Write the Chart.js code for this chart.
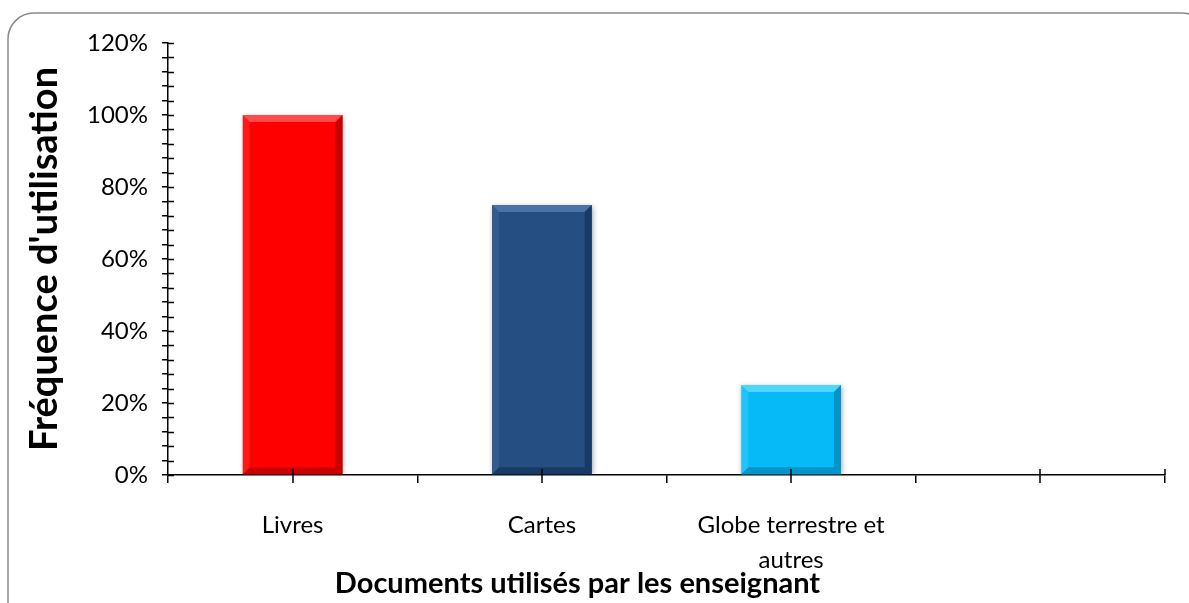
<!DOCTYPE html>
<html>
<head>
<meta charset="utf-8">
<script src="https://cdn.jsdelivr.net/npm/chart.js@4/dist/chart.umd.min.js"></script>
<style>
  html, body { margin: 0; padding: 0; background: #fff; }
  #wrap { width: 1189px; height: 603px; position: relative; }
</style>
</head>
<body>
<div id="wrap"><canvas id="docChart" width="1189" height="603"></canvas></div>
<script>
// data
const categories = ['Livres', 'Cartes', ['Globe terrestre et', 'autres'], ''];
const usage = [1.00, 0.75, 0.25, null];
const barColors = ['#ff0000', '#254f83', '#06baf8'];
const lightColors = ['#ff4a4a', '#4a73a8', '#4fd6ff'];
const darkColors = ['#c80000', '#183a66', '#0494c8'];
const yTickLabels = ['0%', '20%', '40%', '60%', '80%', '100%', '120%'];
const xTitle = 'Documents utilisés par les enseignant';

const FONT = 'Lato, "Open Sans", sans-serif';

// rounded frame around the whole chart
const framePlugin = {
  id: 'frame',
  beforeDraw(chart) {
    const c = chart.ctx;
    c.save();
    c.strokeStyle = '#8a8a8a';
    c.lineWidth = 1.5;
    c.beginPath();
    c.roundRect(8, 13, 1200, 620, 26);
    c.stroke();
    c.restore();
  }
};

// soft shadow + bevel on the bars
const bevelPlugin = {
  id: 'bevel',
  beforeDatasetsDraw(chart) {
    const c = chart.ctx;
    c.save();
    c.shadowColor = 'rgba(0,0,0,0.35)';
    c.shadowBlur = 5;
    c.shadowOffsetX = 1;
    c.shadowOffsetY = 1;
  },
  afterDatasetsDraw(chart) {
    const c = chart.ctx;
    c.restore();
    const meta = chart.getDatasetMeta(0);
    meta.data.forEach((bar, i) => {
      if (usage[i] == null) return;
      const p = bar.getProps(['x', 'y', 'base', 'width'], true);
      const l = p.x - p.width / 2, r = p.x + p.width / 2, t = p.y, b = p.base, d = 7;
      const poly = (pts, col) => {
        c.beginPath();
        c.moveTo(pts[0], pts[1]);
        for (let k = 2; k < pts.length; k += 2) c.lineTo(pts[k], pts[k + 1]);
        c.closePath();
        c.fillStyle = col;
        c.fill();
      };
      c.save();
      poly([l, t, r, t, r - d, t + d, l + d, t + d], lightColors[i]);
      poly([r, t, r, b, r - d, b - d, r - d, t + d], darkColors[i]);
      poly([l, b, r, b, r - d, b - d, l + d, b - d], darkColors[i]);
      c.globalAlpha = 0.35;
      poly([l, t, l + d, t + d, l + d, b - d, l, b], lightColors[i]);
      c.restore();
    });
  }
};

// ticks that cross the axis lines (Excel "cross" style)
const crossTicks = {
  id: 'crossTicks',
  afterDraw(chart) {
    const c = chart.ctx;
    const ys = chart.scales.y, xs = chart.scales.x;
    c.save();
    c.strokeStyle = '#000';
    c.lineWidth = 1.5;
    c.beginPath();
    ys.ticks.forEach((t, i) => {
      const py = Math.round(ys.getPixelForTick(i)) + 0.5;
      c.moveTo(ys.right, py);
      c.lineTo(ys.right + 6, py);
    });
    const axisY = xs.top;
    for (let i = 0; i < categories.length; i++) {
      const px = Math.round(xs.getPixelForTick(i));
      c.moveTo(px, axisY - 6);
      c.lineTo(px, axisY + 8);
    }
    c.moveTo(xs.right, axisY - 6);
    c.lineTo(xs.right, axisY);
    c.stroke();
    c.restore();
  }
};

// x axis title, sits left of the plot centre like in the original
const xTitlePlugin = {
  id: 'xTitle',
  afterDraw(chart) {
    const c = chart.ctx;
    c.save();
    c.fillStyle = '#000';
    c.font = 'bold 29px ' + FONT;
    c.textAlign = 'center';
    c.textBaseline = 'middle';
    c.fillText(xTitle, chart.width / 2 - 17, 584);
    c.restore();
  }
};

new Chart(document.getElementById('docChart'), {
  type: 'bar',
  data: {
    labels: categories,
    datasets: [{
      data: usage,
      backgroundColor: barColors,
      borderWidth: 0,
      barPercentage: 0.4,
      categoryPercentage: 1.0
    }]
  },
  options: {
    responsive: false,
    animation: false,
    layout: { padding: { top: 43, right: 24, left: 0, bottom: 0 } },
    plugins: {
      legend: { display: false },
      tooltip: { enabled: false }
    },
    scales: {
      x: {
        afterFit(scale) { scale.height = 128; },
        grid: {
          offset: true,
          drawOnChartArea: false,
          drawTicks: true,
          tickLength: 8,
          color: '#000',
          lineWidth: 1.5
        },
        border: { display: true, color: '#000', width: 1.5 },
        ticks: {
          color: '#000',
          padding: 25,
          maxRotation: 0,
          autoSkip: false,
          font: { family: FONT, size: 24, lineHeight: 1.45 }
        }
      },
      y: {
        min: 0,
        max: 1.2,
        afterFit(scale) { scale.width = 168; },
        grid: {
          drawOnChartArea: false,
          drawTicks: true,
          tickLength: 6,
          color: '#000',
          lineWidth: 1.5
        },
        border: { display: true, color: '#000', width: 1.5 },
        ticks: {
          stepSize: 0.04,
          maxTicksLimit: 40,
          autoSkip: false,
          padding: 14,
          color: '#000',
          font: { family: FONT, size: 24 },
          callback(v) {
            const pct = Math.round(v * 100);
            return pct % 20 === 0 ? yTickLabels[pct / 20] : '';
          }
        },
        title: {
          display: true,
          text: "Fréquence d'utilisation",
          color: '#000',
          font: { family: FONT, size: 38, weight: 'bold', lineHeight: 1.2 },
          padding: { top: 22, bottom: 0 }
        }
      }
    }
  },
  plugins: [framePlugin, bevelPlugin, crossTicks, xTitlePlugin]
});
</script>
</body>
</html>
